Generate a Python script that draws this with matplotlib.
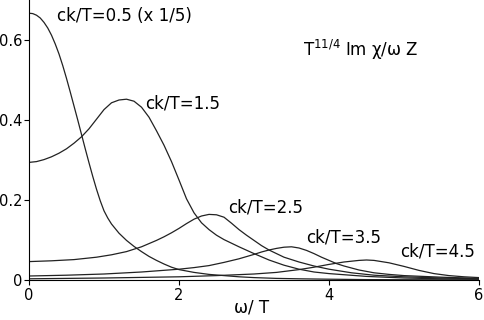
import numpy as np
import matplotlib
matplotlib.use("Agg")
import matplotlib.pyplot as plt

plt.rcParams['font.family'] = ['DejaVu Sans']
plt.rcParams['mathtext.fontset'] = 'dejavusans'

# curves (omega/T, value)
x05 = [0, 0.05, 0.1, 0.15, 0.2, 0.25, 0.3, 0.35, 0.4, 0.45, 0.5, 0.55, 0.6, 0.65, 0.7, 0.75,
       0.8, 0.85, 0.9, 0.95, 1.0, 1.05, 1.1, 1.2, 1.3, 1.4, 1.5, 1.6, 1.7, 1.8, 1.9, 2.0, 2.2,
       2.4, 2.6, 2.8, 3.0, 3.3, 3.6, 4.0, 4.5, 5.0, 6.0]
y05 = [0.667, 0.666, 0.662, 0.655, 0.644, 0.63, 0.612, 0.59, 0.565, 0.536, 0.504, 0.47, 0.435,
       0.4, 0.364, 0.328, 0.293, 0.259, 0.227, 0.198, 0.173, 0.155, 0.14, 0.117, 0.099, 0.084,
       0.071, 0.059, 0.049, 0.04, 0.032, 0.026, 0.019, 0.014, 0.011, 0.008, 0.006, 0.004,
       0.003, 0.002, 0.001, 0.0007, 0.0003]

x15 = [0, 0.1, 0.2, 0.3, 0.4, 0.5, 0.6, 0.7, 0.8, 0.9, 1.0, 1.1, 1.2, 1.3, 1.4, 1.5, 1.6, 1.7,
       1.8, 1.9, 2.0, 2.1, 2.2, 2.3, 2.4, 2.5, 2.6, 2.7, 2.8, 3.0, 3.2, 3.4, 3.6, 3.8, 4.0, 4.5,
       5.0, 5.5, 6.0]
y15 = [0.294, 0.296, 0.301, 0.308, 0.317, 0.328, 0.342, 0.358, 0.378, 0.402, 0.426, 0.443,
       0.45, 0.452, 0.447, 0.432, 0.407, 0.373, 0.337, 0.296, 0.25, 0.203, 0.168, 0.143, 0.126,
       0.112, 0.101, 0.092, 0.083, 0.066, 0.05, 0.037, 0.027, 0.02, 0.016, 0.009, 0.005, 0.003,
       0.002]

x25 = [0, 0.3, 0.6, 0.9, 1.1, 1.3, 1.5, 1.7, 1.8, 1.9, 2.0, 2.1, 2.2, 2.3, 2.4, 2.5, 2.6, 2.7,
       2.8, 2.9, 3.0, 3.1, 3.2, 3.4, 3.6, 3.8, 4.0, 4.3, 4.6, 5.0, 5.5, 6.0]
y25 = [0.046, 0.048, 0.051, 0.057, 0.063, 0.071, 0.083, 0.099, 0.108, 0.118, 0.129, 0.141,
       0.152, 0.16, 0.164, 0.163, 0.157, 0.142, 0.126, 0.112, 0.099, 0.086, 0.075, 0.057,
       0.045, 0.035, 0.027, 0.018, 0.012, 0.008, 0.005, 0.003]

x35 = [0, 0.5, 1.0, 1.5, 2.0, 2.2, 2.4, 2.6, 2.8, 3.0, 3.1, 3.2, 3.3, 3.4, 3.5, 3.6, 3.7, 3.8,
       3.9, 4.0, 4.1, 4.2, 4.4, 4.6, 4.8, 5.0, 5.5, 6.0]
y35 = [0.01, 0.012, 0.015, 0.02, 0.027, 0.031, 0.036, 0.044, 0.053, 0.064, 0.07, 0.075, 0.079,
       0.082, 0.083, 0.08, 0.074, 0.066, 0.057, 0.049, 0.041, 0.035, 0.025, 0.018, 0.014, 0.011,
       0.007, 0.004]

x45 = [0, 1.0, 2.0, 2.5, 3.0, 3.3, 3.6, 3.8, 4.0, 4.2, 4.4, 4.5, 4.6, 4.8, 5.0, 5.2, 5.4, 5.6,
       5.8, 6.0]
y45 = [0.003, 0.005, 0.008, 0.011, 0.015, 0.019, 0.026, 0.032, 0.039, 0.045, 0.049, 0.05, 0.049,
       0.043, 0.034, 0.024, 0.016, 0.011, 0.008, 0.006]

labels = ['ck/T=0.5 (x 1/5)', 'ck/T=1.5', 'ck/T=2.5', 'ck/T=3.5', 'ck/T=4.5']

fig = plt.figure(figsize=(4.85, 3.2), dpi=100)
ax = fig.add_axes([29/485, 40/320, 450/485, 280/320])

for xs, ys in [(x05, y05), (x15, y15), (x25, y25), (x35, y35), (x45, y45)]:
    ax.plot(xs, ys, color='#222222', lw=0.9)

ax.set_xlim(0, 6)
ax.set_ylim(0, 0.7)
ax.set_xticks([0, 2, 4, 6])
ax.set_xticklabels(['0', '2', '4', '6'])
ax.set_yticks([0, 0.2, 0.4, 0.6])
ax.set_yticklabels(['0', '0.2', '0.4', '0.6'])
ax.spines['top'].set_visible(False)
ax.spines['right'].set_visible(False)
for s in ['left', 'bottom']:
    ax.spines[s].set_linewidth(0.8)
ax.tick_params(direction='out', length=3.5, width=0.8, labelsize=10.5)
ax.tick_params(axis='y', pad=1)
ax.tick_params(axis='x', pad=2)

# curve labels, placed in pixel coords of the figure
lab_pos = [(57, 16), (145, 104), (228, 208), (306, 237), (400, 252)]
for txt, (px, py) in zip(labels, lab_pos):
    fig.text(px/485, 1 - py/320, txt, fontsize=12, va='center', ha='left')

fig.text(303/485, 1 - 50/320, r'T$^{11/4}$ Im χ/ω Z', fontsize=12, va='center', ha='left')
fig.text(252/485, 1 - 308/320, 'ω/ T', fontsize=12, va='center', ha='center')

fig.savefig('out.png', dpi=100)
